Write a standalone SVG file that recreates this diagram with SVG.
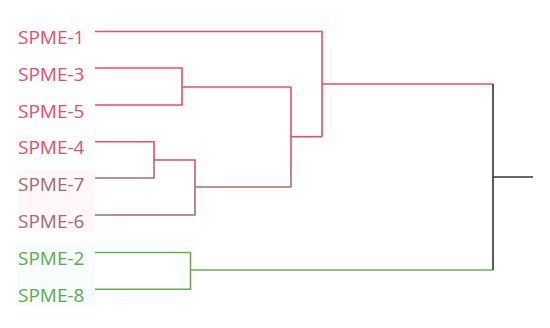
<svg xmlns="http://www.w3.org/2000/svg" width="550" height="328" viewBox="0 0 550 328">
<style>
text{font-family:"Open Sans","Noto Sans",sans-serif;font-size:19px}
.r{fill:#e2506a}.b{fill:#a06c6c}.g{fill:#62a94b}
line,polyline{fill:none;stroke-width:1.6}
.sr{stroke:#e2506a}.sb{stroke:#a07070}.sg{stroke:#6aab52}.sk{stroke:#333}
</style>
<rect width="550" height="328" fill="#fff"/>
<rect x="17" y="170" width="78" height="62" fill="#fef7f9"/>
<rect x="17" y="244" width="78" height="62" fill="#f6fdfc"/>
<g id="SPME-1"><text class="r" x="18" y="44">SPME-1</text></g>
<g id="SPME-3"><text class="r" x="18" y="81">SPME-3</text></g>
<g id="SPME-5"><text class="r" x="18" y="118">SPME-5</text></g>
<g id="SPME-4"><text class="r" x="18" y="154">SPME-4</text></g>
<g id="SPME-7"><text class="b" x="18" y="191">SPME-7</text></g>
<g id="SPME-6"><text class="b" x="18" y="228">SPME-6</text></g>
<g id="SPME-2"><text class="g" x="18" y="265">SPME-2</text></g>
<g id="SPME-8"><text class="g" x="18" y="302">SPME-8</text></g>
<g id="connectors">
<polyline class="sr" points="95,68 182,68 182,105 95,105"/>
<line class="sr" x1="182" y1="87" x2="291" y2="87"/>
<polyline class="sr" points="95,141.7 154,141.7 154,160"/>
<polyline class="sb" points="154,160 154,178 95,178"/>
<polyline class="sr" points="154,160 195,160 195,172"/>
<polyline class="sb" points="195,172 195,215 95,215"/>
<line class="sb" x1="195" y1="187" x2="291" y2="187"/>
<line class="sr" x1="291" y1="87" x2="291" y2="167"/>
<line class="sb" x1="291" y1="167" x2="291" y2="187"/>
<line class="sr" x1="291" y1="136.7" x2="322" y2="136.7"/>
<polyline class="sr" points="95,31.5 322,31.5 322,136.7"/>
<line class="sr" x1="322" y1="84" x2="493" y2="84"/>
<polyline class="sg" points="95,252.5 190.5,252.5 190.5,289.3 95,289.3"/>
<line class="sg" x1="190.5" y1="270" x2="493" y2="270"/>
<line class="sk" x1="493" y1="84" x2="493" y2="270"/>
<line class="sk" x1="493" y1="177" x2="533" y2="177"/>
</g>
</svg>
